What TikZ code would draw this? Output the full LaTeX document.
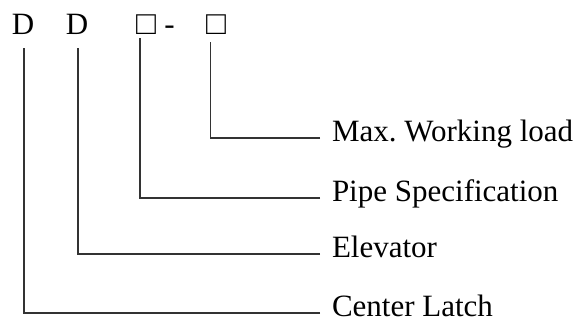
\documentclass[tikz,border=0pt]{standalone}
\usepackage{fontspec}
\setmainfont{Liberation Serif}
\usetikzlibrary{positioning}
\frenchspacing

\begin{document}
\begin{tikzpicture}[x=1pt,y=-1pt,thick,
    code node/.style={anchor=base,inner sep=0pt,font=\fontsize{31}{36}\selectfont},
    box node/.style={anchor=base,inner sep=0pt,font=\fontsize{33}{38}\selectfont},
    label node/.style={anchor=west,inner xsep=0pt,inner ysep=0pt,outer xsep=12pt,
      text height=0.66em,text depth=0pt,font=\fontsize{31}{36}\selectfont},
    leader/.style={-,line width=1.3pt,draw=black!80}]
   \useasboundingbox (0,0) rectangle (583,332);
   % type code
   \node[code node] (d1) at (23,34) {D};
   \node[code node] (d2) at (77,34) {D};
   \node[box node] (b1) at (146,34) {□};
   \node[code node] (dash) at (169.5,34) {-};
   \node[box node] (b2) at (216,34) {□};
   % tops of the leader lines
   \coordinate (t1) at (24,48);
   \coordinate (t2) at (78,48);
   \coordinate (t3) at (140,38);
   \coordinate (t4) at (210.5,42);
   % meanings
   \node[label node] (load) at (320,138) {Max. Working load};
   \node[label node] (pipe) at (320,198) {Pipe Specification};
   \node[label node] (elev) at (320,254) {Elevator};
   \node[label node] (latch) at (320,313) {Center Latch};
   \draw[leader] (load.west) -| (t4);
   \draw[leader] (pipe.west) -| (t3);
   \draw[leader] (elev.west) -| (t2);
   \draw[leader] (latch.west) -| (t1);
\end{tikzpicture}
\end{document}
